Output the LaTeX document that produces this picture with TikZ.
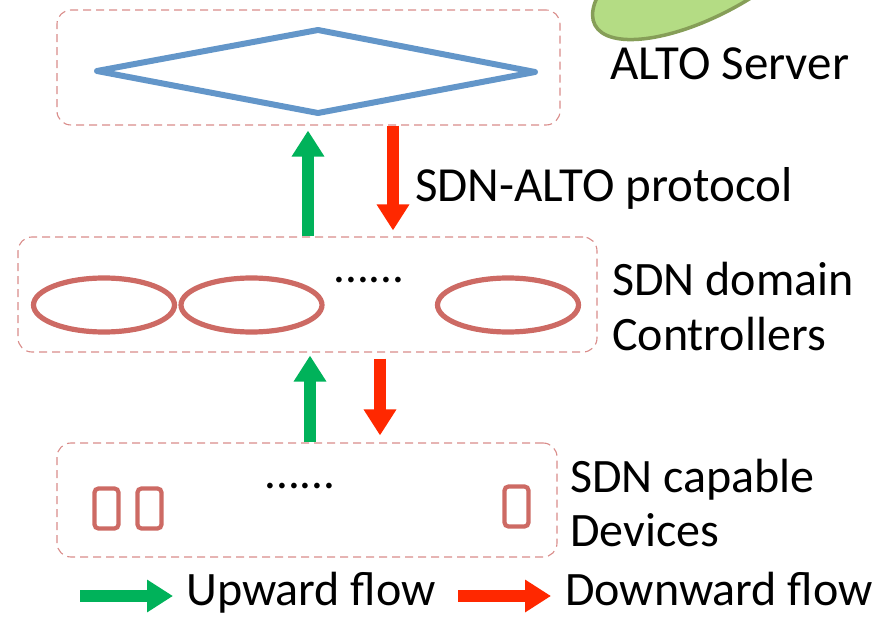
\documentclass[tikz,border=0pt]{standalone}
\usepackage{fontspec}
\setmainfont{Carlito}
\usetikzlibrary{arrows.meta,shapes.geometric}
\definecolor{dashred}{RGB}{217,140,138}
\definecolor{ctrlred}{RGB}{205,106,100}
\definecolor{altoblue}{RGB}{99,150,201}
\definecolor{upgreen}{RGB}{0,178,90}
\definecolor{downred}{RGB}{255,40,0}
\definecolor{blobfill}{RGB}{180,220,132}
\definecolor{blobline}{RGB}{134,158,88}
\tikzset{
  dbox/.style={draw=dashred, line width=1.1pt, dash pattern=on 8pt off 5pt, rounded corners=14pt, minimum width=#1},
  ctrl/.style={draw=ctrlred, line width=5.2pt, ellipse, minimum width=141pt, minimum height=54pt, inner sep=0pt},
  dev/.style={draw=ctrlred, line width=4.2pt, rounded corners=4pt, minimum width=24pt, minimum height=40pt, inner sep=0pt},
  lbl/.style={font=\fontsize{48}{54}\selectfont, anchor=base west, inner sep=0pt},
  biglbl/.style={font=\fontsize{49}{54}\selectfont, anchor=base west, inner sep=0pt},
  dots/.style={font=\fontsize{47}{52}\selectfont, anchor=base, inner sep=0pt},
  uparr/.style={draw=upgreen, line width=12pt, -{Triangle[width=31pt,length=26pt]}, upgreen},
  downarr/.style={draw=downred, line width=12pt, -{Triangle[width=31pt,length=26pt]}, downred},
}
\begin{document}
\begin{tikzpicture}[x=1pt,y=-1pt]
\useasboundingbox (0,0) rectangle (888,617);
% ALTO server blob
\begin{scope}
\clip (0,0) rectangle (888,617);
\draw[fill=blobfill, draw=blobline, line width=3.5pt, rotate around={28:(708,-35)}] (708,-35) ellipse (128 and 50);
\end{scope}
\node[biglbl] (alto) at (610,80) {ALTO Server};
% boxes
\node[dbox=503pt, minimum height=115pt] (topbox) at (308.5,67.5) {};
\node[dbox=579pt, minimum height=115pt] (midbox) at (307.5,294.5) {};
\node[dbox=500pt, minimum height=114pt] (botbox) at (307,500) {};
% diamond
\draw[altoblue, line width=6pt, line join=round] (97,71) -- (318,30) -- (535,72) -- (318,113) -- cycle;
% controllers
\node[ctrl] (c1) at (104,305) {};
\node[ctrl] (c2) at (251.5,305) {};
\node[ctrl] (c3) at (508,305) {};
\node[dots] (d1) at (369,283) {......};
% devices
\node[dev] (v1) at (106.5,508.5) {};
\node[dev] (v2) at (149.5,508.5) {};
\node[dev] (v3) at (516.5,506.5) {};
\node[dots] (d2) at (300,488) {......};
% labels
\node[biglbl] (proto) at (415,202) {SDN-ALTO protocol};
\node[lbl] (ctrls1) at (612,296) {SDN domain};
\node[lbl] (ctrls2) at (612,350) {Controllers};
\node[lbl] (devs1) at (570,492) {SDN capable};
\node[lbl] (devs2) at (570,546) {Devices};
% flows
\coordinate (g1) at (308,0);
\coordinate (r1) at (393,0);
\coordinate (g2) at (310,0);
\coordinate (r2) at (380,0);
\draw[uparr] (midbox.north -| g1) -- ([yshift=-5pt]topbox.south -| g1);
\draw[downarr] (topbox.south -| r1) -- ([yshift=6pt]midbox.north -| r1);
\draw[uparr] (botbox.north -| g2) -- ([yshift=-3pt]midbox.south -| g2);
\draw[downarr] ([yshift=-6pt]midbox.south -| r2) -- ([yshift=7pt]botbox.north -| r2);
% legend
\coordinate (la1) at (80,596);
\coordinate (la2) at (173,596);
\coordinate (lb1) at (458,596);
\coordinate (lb2) at (551,596);
\draw[uparr] (la1) -- (la2);
\draw[downarr] (lb1) -- (lb2);
\node[lbl] (up) at (186,605) {Upward flow};
\node[lbl] (down) at (565,605) {Downward flow};
\end{tikzpicture}
\end{document}
